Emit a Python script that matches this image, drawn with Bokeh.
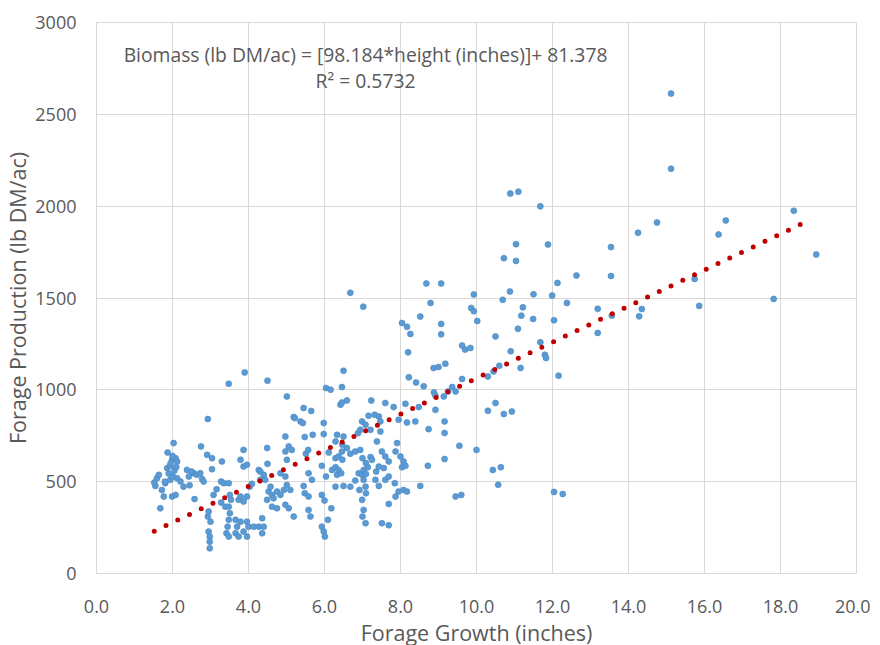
from bokeh.plotting import figure
from bokeh.models import Range1d, FixedTicker, NumeralTickFormatter, Label
from bokeh.embed import file_html
from bokeh.resources import INLINE

# Forage growth (inches) and forage production (lb DM/ac)
growth = [
    1.55, 1.59, 1.64, 1.68, 1.72, 1.77, 1.81, 1.86, 1.87, 1.94, 1.94, 1.99, 1.99, 2.01, 2.03, 2.08, 2.08,
    2.12, 2.12, 2.21, 2.29, 2.38, 2.43, 2.56, 2.58, 2.64, 2.73, 2.75, 2.78, 2.82, 2.91, 2.93, 2.93, 2.95,
    2.95, 3.00, 2.98, 2.98, 2.98, 3.04, 3.04, 3.08, 3.16, 1.95, 2.05, 2.00, 1.90, 2.10, 1.80, 1.52, 2.45, 2.50,
    3.28, 3.35, 3.48, 3.30, 3.28, 3.39, 3.48, 3.51, 3.54, 3.48, 3.51, 3.48, 3.45, 3.42, 3.48, 3.66, 3.66,
    3.70, 3.74, 3.74, 3.79, 3.79, 3.79, 3.87, 3.87, 3.87, 3.87, 3.90, 3.96, 3.96, 3.96, 3.96, 4.00, 4.03,
    4.09, 4.14, 4.27, 4.27, 4.31, 4.31, 4.36, 4.36, 4.40, 4.40, 4.44, 4.49, 4.50, 4.49, 4.50, 4.53, 4.58,
    4.62, 4.62, 4.66, 4.75, 4.75, 4.84, 4.84, 4.93, 4.97, 4.97, 4.97, 4.97, 5.01, 5.01, 5.01, 5.06, 5.06, 5.10,
    5.14, 5.19, 5.19, 5.22, 5.37, 5.45, 5.43, 5.45, 5.48, 5.48, 5.51, 5.57, 5.58, 5.58, 5.58, 5.63, 5.65,
    5.67, 5.69, 5.93, 5.93, 5.93, 5.98, 5.98, 5.98, 6.00, 6.01, 6.04, 6.04, 6.09, 6.11, 6.16, 6.18, 6.20,
    6.29, 6.29, 6.29, 6.29, 6.33, 6.33, 6.37, 6.37, 6.42, 6.44, 6.46, 6.46, 6.46, 6.47, 6.47, 6.50, 6.50,
    6.50, 6.59, 6.59, 6.68, 6.68, 6.68,
    6.81, 6.81, 6.88, 6.90, 6.92, 6.94, 6.94, 6.99, 6.99, 6.99, 7.00, 7.00, 7.02, 7.03, 7.03, 7.03, 7.08,
    7.08, 7.08, 7.09, 7.09, 7.09, 7.14, 7.16, 7.21, 7.21, 7.23, 7.25, 7.32, 7.34, 7.36, 7.38, 7.43, 7.43,
    7.43, 7.47, 7.47, 7.51, 7.51, 7.56, 7.60, 7.60, 7.60, 7.69, 7.69, 7.69, 7.69, 7.82, 7.85, 7.87, 7.87,
    7.91, 7.95, 7.95, 8.00, 8.04, 8.04, 8.08, 8.08, 8.13, 8.13, 8.17, 8.17, 8.17,
    8.20, 8.22, 8.26, 8.39, 8.41, 8.48, 8.52, 8.52, 8.61, 8.68, 8.72, 8.74, 8.79, 8.87, 8.88, 8.92, 8.92,
    9.00, 9.07, 9.07, 9.07, 9.18, 9.14, 9.16, 9.16, 9.16, 9.25, 9.36, 9.45, 9.45, 9.55, 9.60, 9.62, 9.62,
    9.70, 9.84, 9.86, 9.93, 9.93, 10.00, 10.02,
    10.30, 10.30, 10.43, 10.45, 10.50, 10.50, 10.57, 10.60, 10.64, 10.69, 10.72, 10.72, 10.88, 10.89, 10.90,
    10.93, 11.04, 11.04, 11.09, 11.10, 11.16, 11.18, 11.22, 11.49, 11.50, 11.68, 11.68, 11.80, 11.83, 11.88,
    11.99, 12.04, 12.04, 12.13, 12.16, 12.27, 12.38, 12.63,
    13.19, 13.19, 13.54, 13.54, 13.56, 14.28, 14.35, 14.25, 14.75, 15.12, 15.12, 15.74, 15.86, 16.37, 16.56,
    17.82, 18.35, 18.94,
]
production = [
    477, 519, 537, 355, 455, 419, 492, 574, 659, 586, 510, 619, 419, 528, 710, 628, 428,
    610, 519, 501, 473, 564, 528, 546, 405, 537, 546, 692, 514, 501, 646, 841, 310, 337,
    228, 282, 201, 173, 137, 628, 568, 428, 459, 600, 560, 640, 545, 580, 500, 495, 480, 555,
    501, 492, 492, 610, 386, 364, 1033, 428, 401, 364, 328, 292, 255, 219, 201, 292, 219,
    255, 401, 201, 419, 619, 282, 392, 673, 582, 228, 1095, 419, 592, 282, 201, 255, 473,
    488, 255, 255, 564, 555, 510, 301, 219, 537, 255, 510, 683, 597, 401, 1050, 446, 473,
    428, 364, 410, 446, 355, 428, 546, 455, 664, 528, 746, 374, 619, 482, 964, 692, 355, 455,
    673, 852, 310, 846, 828, 477, 819, 901, 743, 437, 652, 673, 546, 419, 346, 310, 885,
    510, 755, 586, 428, 255, 759, 819, 228, 397, 201, 1010, 528, 292, 659, 1001, 355, 564,
    628, 579, 473, 719, 755, 537, 637, 564, 919, 546, 1015, 931, 664, 701, 619, 1104, 746,
    477, 942, 683, 652, 473, 1528,
    664, 506, 764, 546, 455, 782, 673, 828, 537, 401, 628, 310, 1453, 564, 510, 346, 810,
    473, 274, 601, 542, 437, 579, 859, 782, 634, 942, 619, 864, 510, 555, 719, 855, 582,
    477, 828, 773, 664, 274, 574, 928, 637, 510, 610, 528, 379, 263, 906, 492, 664, 419,
    710, 837, 446, 637, 579, 1364, 610, 455, 924, 586, 822, 446, 1343,
    1204, 1068, 1304, 828, 1040, 906, 1399, 477, 1019, 1579, 586, 786, 1473, 1119, 986, 891, 968,
    1124, 1579, 1359, 1302, 1142, 964, 828, 765, 623, 991, 1015, 991, 419, 695, 428, 1059, 1241,
    1219, 1228, 1446, 1428, 1519, 673, 1375,
    1073, 886, 564, 1100, 928, 1291, 483, 1131, 579, 1490, 868, 1717, 1535, 2069, 1210,
    882, 1793, 1702, 1332, 2079, 1119, 1404, 1449, 1386, 1520, 1999, 1259, 1191, 1173, 1791,
    1513, 1379, 444, 1582, 1077, 433, 1473, 1622,
    1441, 1310, 1777, 1620, 1404, 1400, 1440, 1855, 1911, 2613, 2204, 1604, 1457, 1846, 1922,
    1495, 1975, 1737,
]

# Linear trendline from the chart's equation
slope = 98.184
intercept = 81.378
trend_x = [1.52, 18.67]
trend_y = [slope * v + intercept for v in trend_x]

x_ticks = [0, 2, 4, 6, 8, 10, 12, 14, 16, 18, 20]
y_ticks = [0, 500, 1000, 1500, 2000, 2500, 3000]

equation_text = "Biomass (lb DM/ac) = [98.184*height (inches)]+ 81.378"
r2_text = "R\u00b2 = 0.5732"

FONT = "Open Sans"
GRAY = "#595959"
GRID = "#D9D9D9"

p = figure(
    frame_width=760, frame_height=551,
    output_backend="svg", toolbar_location=None,
    x_range=Range1d(0, 20), y_range=Range1d(0, 3000),
    min_border_left=90, min_border_right=14, min_border_top=22, min_border_bottom=63,
    background_fill_color="white", border_fill_color="white",
)
p.outline_line_color = GRID

for ax in (p.xaxis[0], p.yaxis[0]):
    ax.major_tick_line_color = None
    ax.minor_tick_line_color = None
    ax.major_tick_out = 0
    ax.major_tick_in = 0
    ax.axis_line_color = GRID
    ax.major_label_text_font = FONT
    ax.major_label_text_font_size = "18px"
    ax.major_label_text_color = GRAY
    ax.axis_label_text_font = FONT
    ax.axis_label_text_font_size = "21.5px"
    ax.axis_label_text_font_style = "normal"
    ax.axis_label_text_color = GRAY

p.xaxis.ticker = FixedTicker(ticks=x_ticks)
p.yaxis.ticker = FixedTicker(ticks=y_ticks)
p.xaxis.formatter = NumeralTickFormatter(format="0.0")
p.yaxis.formatter = NumeralTickFormatter(format="0")
p.xaxis.axis_label = "Forage Growth (inches)"
p.yaxis.axis_label = "Forage Production (lb DM/ac)"
p.xaxis.major_label_standoff = 26
p.xaxis.axis_label_standoff = 2
p.yaxis.major_label_standoff = 20
p.yaxis.axis_label_standoff = 0

p.xgrid.grid_line_color = GRID
p.ygrid.grid_line_color = GRID
p.xgrid.ticker = FixedTicker(ticks=x_ticks)
p.ygrid.ticker = FixedTicker(ticks=y_ticks)

p.scatter(growth, production, marker="circle", size=6,
          fill_color="#5B9BD5", line_color="#4A86BD", line_width=0.6)

p.line(trend_x, trend_y, line_color="#C00000", line_width=5,
       line_dash="0 13", line_cap="round")

p.add_layout(Label(x=7.08, y=2827, text=equation_text, text_align="center",
                   text_baseline="middle", text_font=FONT, text_font_size="19.3px",
                   text_color=GRAY))
p.add_layout(Label(x=7.08, y=2686, text=r2_text, text_align="center",
                   text_baseline="middle", text_font=FONT, text_font_size="19.3px",
                   text_color=GRAY))

open("out.html", "w").write(file_html(p, INLINE))
